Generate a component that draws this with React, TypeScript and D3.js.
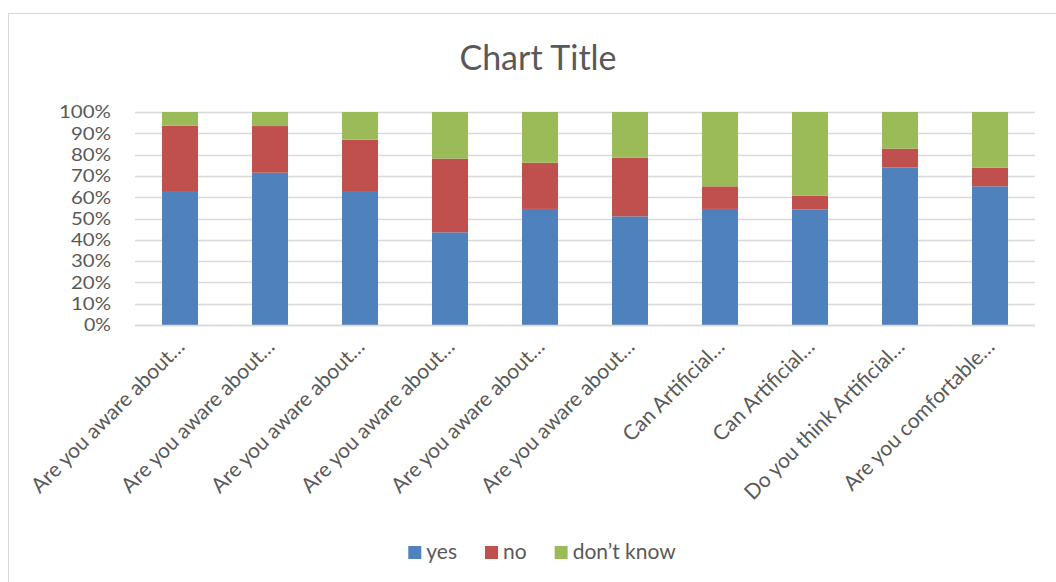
import React, { useEffect, useRef } from "react";
import * as d3 from "d3";

const categories = [
  "Are you aware about…",
  "Are you aware about…",
  "Are you aware about…",
  "Are you aware about…",
  "Are you aware about…",
  "Are you aware about…",
  "Can Artificial…",
  "Can Artificial…",
  "Do you think Artificial…",
  "Are you comfortable…",
];
const seriesNames = ["yes", "no", "don’t know"];
const yesValues = [62.9, 71.5, 62.9, 43.5, 54.5, 51.0, 54.5, 54.3, 74.0, 65.1];
const noValues = [30.7, 21.9, 24.1, 34.6, 21.7, 27.5, 10.6, 6.4, 8.8, 8.7];
const dontKnowValues = [6.4, 6.6, 13.0, 21.9, 23.8, 21.5, 34.9, 39.3, 17.2, 26.2];
const yTicks = [0, 0.1, 0.2, 0.3, 0.4, 0.5, 0.6, 0.7, 0.8, 0.9, 1];
const colors = ["#4F81BD", "#C0504D", "#9BBB59"];

const W = 1056;
const H = 582;
const FONT = "Lato, 'Open Sans', sans-serif";
const TEXT = "#595959";

export default function App() {
  const ref = useRef<SVGSVGElement>(null);

  useEffect(() => {
    const svg = d3.select(ref.current);
    svg.selectAll("*").remove();

    // chart area border
    svg.append("rect")
      .attr("x", 8.5).attr("y", 13.5)
      .attr("width", W + 20).attr("height", H + 20)
      .attr("fill", "white").attr("stroke", "#D9D9D9").attr("stroke-width", 1);

    const margin = { left: 135, right: 21, top: 112, bottom: 257 };
    const x = d3.scaleBand<number>()
      .domain(d3.range(categories.length))
      .range([margin.left, W - margin.right])
      .paddingInner(0.6).paddingOuter(0.3);
    const y = d3.scaleLinear().domain([0, 1]).range([H - margin.bottom, margin.top]);

    const rows = categories.map((c, i) => {
      const total = yesValues[i] + noValues[i] + dontKnowValues[i];
      return { i, yes: yesValues[i] / total, no: noValues[i] / total, dk: dontKnowValues[i] / total };
    });
    const stack = d3.stack<any>().keys(["yes", "no", "dk"]);
    const layers = stack(rows);

    // title
    svg.append("text")
      .attr("x", 538).attr("y", 70)
      .attr("text-anchor", "middle")
      .attr("font-family", FONT).attr("font-size", 34)
      .attr("fill", TEXT).text("Chart Title");

    // gridlines
    svg.append("g").selectAll("line").data(yTicks).join("line")
      .attr("x1", margin.left).attr("x2", W - margin.right)
      .attr("y1", (d) => Math.round(y(d)) + 0.5).attr("y2", (d) => Math.round(y(d)) + 0.5)
      .attr("stroke", "#D9D9D9").attr("stroke-width", 1.3);

    // y tick labels
    svg.append("g").selectAll("text").data(yTicks).join("text")
      .attr("x", 111).attr("y", (d) => y(d))
      .attr("dy", "0.36em")
      .attr("text-anchor", "end")
      .attr("font-family", FONT).attr("font-size", 17.5)
      .attr("textLength", (d) => (d === 1 ? 52 : d === 0 ? 27 : 40))
      .attr("lengthAdjust", "spacingAndGlyphs")
      .attr("fill", TEXT)
      .text((d) => d3.format(".0%")(d));

    // bars
    layers.forEach((layer, k) => {
      svg.append("g").selectAll("rect").data(layer).join("rect")
        .attr("x", (d: any) => x(d.data.i)!)
        .attr("width", x.bandwidth())
        .attr("y", (d: any) => y(d[1]))
        .attr("height", (d: any) => y(d[0]) - y(d[1]))
        .attr("fill", colors[k]);
    });

    // axis line
    svg.append("line")
      .attr("x1", margin.left).attr("x2", W - margin.right)
      .attr("y1", Math.round(y(0)) + 0.5).attr("y2", Math.round(y(0)) + 0.5)
      .attr("stroke", "#D9D9D9").attr("stroke-width", 1.3);

    // x labels
    svg.append("g").selectAll("text").data(categories).join("text")
      .attr("transform", (d, i) => `translate(${x(i)! + x.bandwidth() / 2 + 6},${y(0) + 23}) rotate(-45)`)
      .attr("text-anchor", "end")
      .attr("font-family", FONT).attr("font-size", 21)
      .attr("fill", TEXT)
      .text((d) => d);

    // legend
    const lg = svg.append("g");
    const items = lg.selectAll("g").data(seriesNames).join("g");
    items.append("rect").attr("width", 13).attr("height", 13).attr("y", 546)
      .attr("fill", (d, i) => colors[i]);
    items.append("text").attr("x", 18).attr("y", 559)
      .attr("font-family", FONT).attr("font-size", 21)
      .attr("fill", TEXT).text((d) => d);
    let cur = 0;
    const offsets: number[] = [];
    items.each(function () {
      offsets.push(cur);
      const t = d3.select(this).select("text").node() as SVGTextElement;
      cur += 18 + t.getComputedTextLength() + 28;
    });
    const totalW = cur - 28;
    const start = 542 - totalW / 2;
    items.attr("transform", (d, i) => `translate(${start + offsets[i]},0)`);
  }, []);

  return (
    <svg
      ref={ref}
      width={W}
      height={H}
      style={{ position: "absolute", left: 0, top: 0, background: "white" }}
    />
  );
}
